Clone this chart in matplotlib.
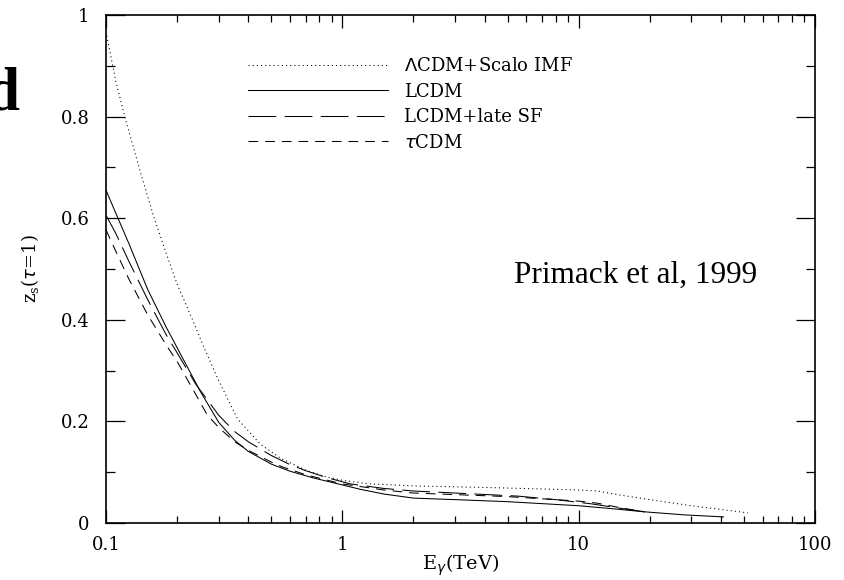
import matplotlib
matplotlib.use("Agg")
import matplotlib.pyplot as plt
from matplotlib.ticker import FixedLocator, LogLocator, NullFormatter, FixedFormatter, MultipleLocator

plt.rcParams["lines.scale_dashes"] = False

# Lambda CDM + Scalo IMF (dotted)
e_scalo = [0.1, 0.11, 0.12, 0.14, 0.16, 0.18, 0.2, 0.23, 0.26, 0.3, 0.36, 0.45, 0.55, 0.7, 0.85, 1.0, 1.3, 2, 4, 7, 10, 12, 15, 20, 30, 52]
z_scalo = [0.967, 0.87, 0.80, 0.69, 0.60, 0.53, 0.47, 0.405, 0.345, 0.28, 0.205, 0.155, 0.127, 0.104, 0.091, 0.084, 0.077, 0.073, 0.070, 0.067, 0.065, 0.063, 0.055, 0.046, 0.034, 0.020]

# LCDM (solid)
e_lcdm = [0.1, 0.11, 0.125, 0.15, 0.18, 0.2, 0.25, 0.3, 0.35, 0.4, 0.5, 0.6, 0.75, 0.92, 1.2, 1.5, 2, 3, 5, 10, 14, 19, 28, 41]
z_lcdm = [0.655, 0.61, 0.55, 0.46, 0.385, 0.345, 0.26, 0.198, 0.163, 0.141, 0.116, 0.102, 0.089, 0.079, 0.066, 0.057, 0.049, 0.046, 0.042, 0.034, 0.028, 0.022, 0.016, 0.012]

# LCDM + late SF (long dash)
e_late = [0.1, 0.11, 0.125, 0.15, 0.18, 0.2, 0.24, 0.3, 0.35, 0.4, 0.5, 0.6, 0.7, 0.85, 1.08, 1.5, 2, 3, 5.5, 8, 11.2, 15, 19]
z_late = [0.606, 0.57, 0.515, 0.44, 0.37, 0.335, 0.273, 0.212, 0.18, 0.16, 0.133, 0.115, 0.103, 0.09, 0.077, 0.068, 0.063, 0.059, 0.053, 0.046, 0.038, 0.029, 0.022]

# tau CDM (short dash)
e_tau = [0.1, 0.11, 0.125, 0.15, 0.18, 0.2, 0.23, 0.268, 0.3, 0.35, 0.4, 0.5, 0.56, 0.7, 0.85, 1, 1.5, 2, 5, 10, 12, 15, 19]
z_tau = [0.577, 0.535, 0.48, 0.41, 0.35, 0.318, 0.268, 0.213, 0.188, 0.16, 0.143, 0.12, 0.11, 0.095, 0.085, 0.077, 0.065, 0.059, 0.052, 0.043, 0.039, 0.030, 0.022]

xticks = [0.1, 1, 10, 100]
xticklabels = ["0.1", "1", "10", "100"]
yticks = [0, 0.2, 0.4, 0.6, 0.8, 1]
yticklabels = ["0", "0.2", "0.4", "0.6", "0.8", "1"]

tickfont = "DejaVu Serif"

fig = plt.figure(figsize=(8.44, 5.80), dpi=100)
ax = fig.add_axes([106 / 844, 1 - 523 / 580, 709 / 844, 508 / 580])

lw = 0.75
ax.plot(e_scalo, z_scalo, color="black", lw=lw, dashes=(0.8, 2.2), label=r"$\Lambda$CDM+Scalo IMF")
ax.plot(e_lcdm, z_lcdm, color="black", lw=lw, label="LCDM")
ax.plot(e_late, z_late, color="black", lw=lw, dashes=(20, 6), label="LCDM+late SF")
ax.plot(e_tau, z_tau, color="black", lw=lw, dashes=(7, 5), label=r"$\tau$CDM")

ax.set_xscale("log")
ax.set_xlim(0.1, 100)
ax.set_ylim(0, 1)

ax.xaxis.set_major_locator(FixedLocator(xticks))
ax.xaxis.set_major_formatter(FixedFormatter(xticklabels))
ax.xaxis.set_minor_locator(LogLocator(base=10, subs=range(2, 10)))
ax.xaxis.set_minor_formatter(NullFormatter())
ax.yaxis.set_major_locator(FixedLocator(yticks))
ax.yaxis.set_major_formatter(FixedFormatter(yticklabels))
ax.yaxis.set_minor_locator(MultipleLocator(0.1))

ax.tick_params(which="both", direction="in", top=True, right=True, width=0.9, labelsize=13)
ax.tick_params(axis="x", which="major", length=9.5, pad=9)
ax.tick_params(axis="x", which="minor", length=5)
ax.tick_params(axis="y", which="major", length=13.5, pad=12)
ax.tick_params(axis="y", which="minor", length=6.5)
for lab in ax.get_xticklabels() + ax.get_yticklabels():
    lab.set_family(tickfont)
for s in ax.spines.values():
    s.set_linewidth(1.2)

ax.set_xlabel(r"E$_\gamma$(TeV)", family=tickfont, fontsize=14)
ax.xaxis.set_label_coords(0.5, -0.058)
ax.set_ylabel(r"z$_\mathregular{s}$($\tau$=1)", family=tickfont, fontsize=13)
ax.yaxis.set_label_coords(-0.092, 0.5)

ax.legend(loc="upper left", bbox_to_anchor=(142 / 709, 1 - 42 / 508), frameon=False,
          handlelength=7.75, handletextpad=0.9, borderpad=0, borderaxespad=0,
          labelspacing=0.42, prop={"family": tickfont, "size": 13})

ax.text(5.3, 0.488, "Primack et al, 1999", family="Liberation Serif", fontsize=22.5, va="center")

# panel letter, partly cut at the left edge as in the original
fig.text(19 / 844, 1 - 110 / 580, "d", family="Liberation Serif", fontweight="bold", fontsize=44, ha="right", va="baseline")

fig.savefig("out.png", dpi=100)
